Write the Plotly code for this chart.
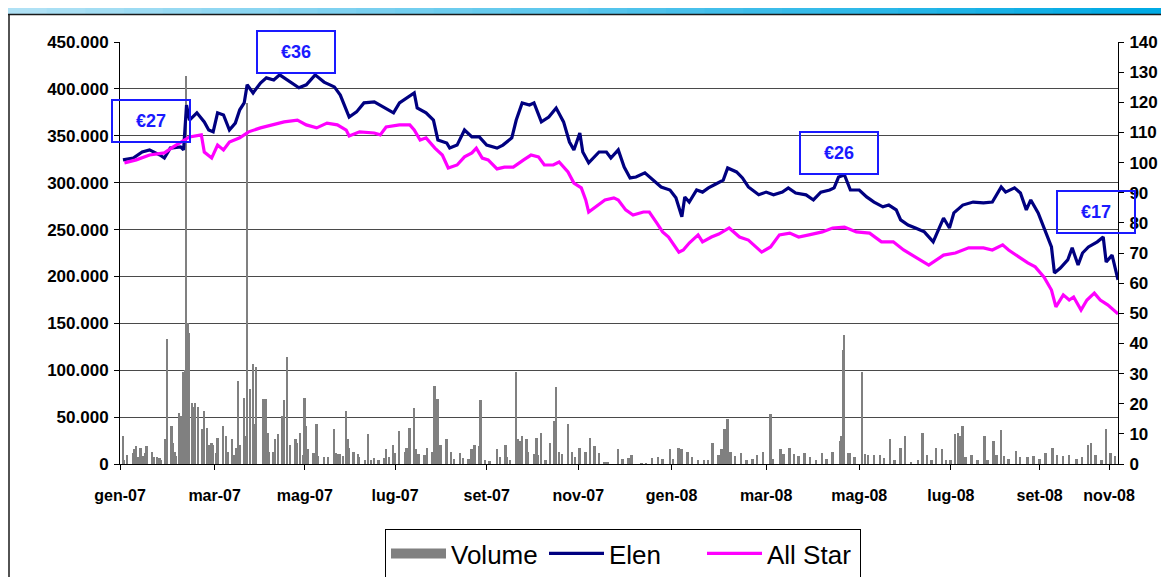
import plotly.graph_objects as go
import pandas as pd

FONT = "Arial, 'Liberation Sans', sans-serif"
BASE = pd.Timestamp("2007-01-01")

# Elen price index (day offset from 1 Jan 2007, value, base 100)
elen_days = [2, 9, 15, 20, 27, 30, 34, 41, 43, 45, 47, 52, 57, 60, 63, 66, 70, 74, 78, 81,
             84, 86, 90, 95, 99, 104, 108, 115, 121, 126, 132, 138, 145, 149, 153, 155, 160, 165, 172, 178,
             185, 189, 194, 199, 201, 207, 212, 215, 221, 223, 228, 233, 238, 243, 248, 255, 259, 265, 268, 272,
             277, 280, 285, 290, 295, 300, 304, 307, 311, 313, 317, 324, 329, 332, 337, 341, 345, 349, 355, 361,
             366, 372, 376, 380, 382, 385, 390, 394, 398, 403, 408, 411, 417, 421, 425, 432, 437, 442, 448, 452,
             457, 464, 469, 474, 480, 483, 486, 490, 494, 500, 505, 510, 516, 520, 525, 528, 533, 538, 544, 550,
             554, 557, 561, 564, 570, 577, 584, 590, 596, 599, 605, 609, 613, 616, 621, 626, 630, 632, 636, 641,
             644, 648, 651, 655, 661, 665, 667, 671, 675]
elen_vals = [100.9, 101.5, 103.5, 104.2, 102.5, 101.5, 104.8, 105.2, 104.2, 119.1, 114.1, 116.5, 113.5, 110.8, 110.2, 116.5, 115.8, 110.8, 113.1, 117.5,
             119.8, 125.8, 123.1, 126.4, 128.1, 127.4, 129.1, 126.7, 124.8, 125.8, 129.1, 126.7, 125.1, 122.4, 117.5, 115.1, 116.8, 119.8, 120.1, 118.5,
             116.5, 119.8, 121.4, 123.1, 118.1, 116.5, 114.1, 107.5, 106.5, 104.8, 105.8, 110.8, 108.5, 108.5, 105.8, 104.8, 105.8, 108.2, 114.1, 119.8,
             119.1, 119.8, 113.5, 115.1, 118.1, 113.5, 106.8, 104.2, 109.8, 103.5, 99.9, 103.5, 103.5, 101.5, 104.2, 98.5, 94.9, 95.2, 96.6, 94.2,
             91.9, 90.9, 88.3, 82.0, 88.6, 86.9, 90.9, 90.2, 91.6, 92.9, 94.2, 98.2, 96.9, 94.9, 91.9, 89.3, 90.2, 89.3, 90.2, 91.6,
             89.9, 89.3, 87.6, 90.2, 90.9, 91.6, 95.2, 95.9, 90.9, 90.9, 88.6, 86.9, 85.3, 85.9, 84.3, 81.0, 79.3, 78.3, 77.0, 73.7,
             78.6, 81.6, 78.3, 83.3, 85.9, 86.9, 86.6, 86.9, 91.9, 90.2, 91.6, 89.9, 84.3, 87.6, 83.3, 76.6, 72.0, 63.4, 65.0, 67.7,
             71.7, 66.0, 70.0, 72.0, 73.7, 75.3, 67.0, 69.3, 61.1]

# All Star index
allstar_days = [3, 11, 20, 30, 36, 43, 47, 55, 57, 62, 66, 70, 74, 81, 87, 95, 104, 111, 120, 126,
                133, 140, 147, 153, 155, 162, 172, 176, 180, 189, 196, 199, 203, 207, 213, 218, 222, 228, 233, 238,
                241, 245, 249, 255, 260, 266, 273, 278, 283, 287, 293, 297, 303, 307, 312, 315, 317, 322, 328, 334,
                337, 342, 347, 354, 358, 363, 367, 371, 378, 381, 385, 391, 394, 400, 405, 412, 419, 425, 434, 440,
                446, 453, 459, 466, 475, 482, 490, 498, 507, 515, 523, 530, 538, 547, 557, 565, 574, 584, 590, 597,
                601, 608, 614, 619, 625, 630, 633, 638, 642, 645, 650, 654, 659, 663, 668, 675]
allstar_vals = [99.9, 100.9, 102.5, 103.2, 105.2, 107.5, 108.5, 109.2, 103.5, 101.5, 105.8, 104.2, 106.8, 108.2, 110.2, 111.5, 112.5, 113.5, 114.1, 112.5,
                111.5, 113.1, 112.5, 110.8, 108.8, 110.2, 109.8, 109.2, 111.8, 112.5, 112.5, 110.8, 107.5, 108.2, 104.8, 102.5, 98.2, 99.2, 101.9, 103.2,
                104.8, 101.5, 100.9, 97.9, 98.5, 98.5, 100.9, 102.5, 101.9, 99.2, 99.2, 100.2, 96.9, 93.2, 91.6, 87.6, 83.6, 85.3, 87.6, 88.3,
                87.6, 84.3, 82.6, 83.6, 83.6, 80.0, 77.0, 75.3, 70.3, 71.0, 73.3, 76.0, 73.7, 75.3, 76.3, 78.3, 75.3, 74.3, 70.3, 72.0,
                76.0, 76.6, 75.3, 76.0, 77.0, 78.3, 78.6, 77.0, 76.6, 73.7, 73.7, 71.0, 68.7, 66.0, 69.3, 70.0, 71.7, 71.7, 71.0, 72.7,
                71.0, 68.7, 66.7, 65.4, 62.0, 57.7, 52.1, 56.1, 54.4, 55.4, 51.1, 54.4, 56.7, 54.4, 52.8, 49.8]

# Daily volume (thousands of shares)
vol_days = [2, 3, 5, 9, 10, 11, 12, 14, 16, 17, 18, 22, 23, 25, 27, 28, 31, 32, 35, 36,
            37, 38, 40, 41, 42, 43, 44, 45, 46, 47,
            49, 50, 51, 53, 56, 57, 59, 60, 62, 63, 65, 66, 70, 72, 73, 76, 77, 79, 80, 81,
            84, 85, 86, 88, 90, 91, 92, 97, 98, 99, 100, 101, 104, 105, 107, 110, 111, 113, 115,
            119, 120, 122, 124, 125, 126, 127, 131, 133, 134, 138, 141, 145, 146, 148, 149, 151, 153, 154, 155,
            158, 161, 162, 166, 168, 170, 172, 175, 179, 180, 182, 185, 186, 189, 193, 194, 196, 199, 200, 202,
            206, 208, 211, 213, 214, 215, 217, 221, 224, 226, 230, 232, 236, 238, 240, 243, 244, 247, 250, 255,
            257, 261, 262, 264, 268, 269, 271, 272, 275, 276, 280, 282, 283, 285, 288, 291, 294, 295, 297, 299,
            303, 306, 308, 311, 315, 318, 321, 324,
            328, 330, 337, 340, 344, 346, 353, 356, 360, 364, 367, 372, 374, 378, 380, 384, 387, 391, 395, 398,
            401, 405, 407, 409, 411, 413, 416, 420, 424, 428, 431, 435, 440, 442, 447, 449, 453, 456, 459, 463,
            467, 471, 475, 478, 482, 487, 488, 489, 490, 493, 494, 497, 502, 504, 506, 510, 514, 517, 521, 524,
            528, 531, 535, 540, 543, 546, 549, 552, 556, 559, 562, 565, 567, 568, 570, 572, 576, 580, 585, 587,
            591, 593, 596, 598, 601, 606, 609, 614, 618, 622, 626, 631, 634, 638, 642, 647, 651, 655, 657, 660,
            664, 667, 670, 673]
vol_k = [30, 4, 10, 12, 16, 19, 7, 17, 9, 12, 19, 13, 7, 8, 6, 4, 27, 133, 41, 22,
         13, 9, 54, 51, 19, 98, 100, 414, 150, 140,
         65, 61, 65, 61, 37, 57, 38, 20, 22, 20, 12, 28, 40, 30, 13, 27, 10, 17, 88, 20,
         70, 30, 385, 80, 107, 43, 103, 69, 69, 69, 33, 13, 13, 27, 32, 51, 68, 114, 20,
         27, 22, 33, 10, 70, 41, 16, 12, 43, 9, 8, 7, 37, 12, 11, 11, 9, 57, 27, 17,
         13, 11, 8, 4, 32, 4, 6, 4, 6, 16, 7, 20, 12, 35, 13, 17, 38, 60, 16, 11,
         10, 17, 13, 83, 20, 69, 20, 27, 13, 5, 12, 6, 5, 16, 20, 19, 68, 4, 3, 16,
         7, 20, 8, 4, 98, 27, 25, 30, 27, 13, 11, 28, 10, 33, 4, 22, 46, 82, 13, 11,
         43, 13, 7, 17, 13, 28, 19, 12,
         2, 2, 16, 5, 6, 10, 1, 1, 6, 8, 5, 16, 5, 17, 16, 13, 8, 4, 4, 4,
         22, 10, 16, 37, 48, 13, 9, 12, 4, 5, 10, 13, 53, 5, 16, 11, 17, 11, 9, 12,
         8, 4, 12, 5, 13, 25, 30, 122, 138, 12, 12, 7, 98, 11, 10, 10, 10, 6, 27, 4,
         17, 30, 2, 4, 33, 10, 4, 17, 16, 4, 4, 32, 33, 30, 41, 7, 10, 4, 30, 4,
         25, 10, 36, 9, 5, 14, 8, 7, 9, 5, 12, 17, 10, 9, 10, 5, 7, 20, 22, 10,
         4, 37, 12, 9]

tick_days = [0, 64, 125, 186, 248, 310, 373, 437, 500, 562, 622, 669]
tick_text = ["gen-07", "mar-07", "mag-07", "lug-07", "set-07", "nov-07",
             "gen-08", "mar-08", "mag-08", "lug-08", "set-08", "nov-08"]

price_labels = ["€27", "€36", "€26", "€17"]


def to_dates(days):
    return [BASE + pd.Timedelta(days=d) for d in days]


# the page body has an 8px margin, so the figure is drawn 8px in from the corner
OFF = 8
W, H = 1169 - OFF, 577 - OFF
# plot area in screen pixels
PL, PR, PT, PB = 120, 1118, 42, 464


def px(x):
    return (x - PL) / (PR - PL)


def py(y):
    return (PB - y) / (PB - PT)


fig = go.Figure()

fig.add_trace(go.Bar(
    x=to_dates(vol_days), y=[v * 1000 for v in vol_k],
    marker=dict(color='#808080', line=dict(width=0)),
    width=86400000 * 1.3, name='Volume', showlegend=False, yaxis='y'
))
fig.add_trace(go.Scatter(
    x=[None], y=[None], mode='lines', name='Volume',
    line=dict(color='#808080', width=16), yaxis='y'
))
fig.add_trace(go.Scatter(
    x=to_dates(elen_days), y=elen_vals, mode='lines', name='Elen',
    line=dict(color='#000080', width=3.2), yaxis='y2'
))
fig.add_trace(go.Scatter(
    x=to_dates(allstar_days), y=allstar_vals, mode='lines', name='All Star',
    line=dict(color='#ff00ff', width=3.2), yaxis='y2'
))

tickfont = dict(family=FONT, size=17, color='black', weight='bold')

# header gradient strip and frame
shapes = []
n_seg = 30
for i in range(n_seg):
    t = i / (n_seg - 1)
    r = int(175 + (0 - 175) * t)
    g = int(225 + (170 - 225) * t)
    b = int(245 + (228 - 245) * t)
    x0 = OFF + (1169 - OFF) * i / n_seg
    x1 = OFF + (1169 - OFF) * (i + 1) / n_seg + 1
    shapes.append(dict(type='rect', xref='paper', yref='paper',
                       x0=px(x0), x1=px(x1), y0=py(OFF), y1=py(OFF + 6),
                       fillcolor=f'rgb({r},{g},{b})', line=dict(width=0), layer='below'))
shapes.append(dict(type='line', xref='paper', yref='paper',
                   x0=px(OFF), x1=px(1169), y0=py(OFF + 6.5), y1=py(OFF + 6.5),
                   line=dict(color='#1a1a1a', width=1.5)))
shapes.append(dict(type='line', xref='paper', yref='paper',
                   x0=px(OFF + 1), x1=px(OFF + 1), y0=py(OFF + 6), y1=py(577),
                   line=dict(color='#1a1a1a', width=1.5)))

# price callout boxes
box_centres = [(151, 121), (296, 52), (839, 153), (1096, 212)]
annotations = []
for text, (cx, cy) in zip(price_labels, box_centres):
    annotations.append(dict(
        text=text, xref='paper', yref='paper', x=px(cx), y=py(cy),
        xanchor='center', yanchor='middle', showarrow=False,
        width=74, height=38, borderpad=1, borderwidth=2, bordercolor='#1a1aff',
        font=dict(family=FONT, size=18, color='#1a1aff', weight='bold')
    ))

fig.update_layout(
    width=W, height=H, autosize=False,
    paper_bgcolor='white', plot_bgcolor='white',
    separators=',.',
    margin=dict(l=PL - OFF, r=1169 - PR, t=PT - OFF, b=577 - PB, autoexpand=False),
    showlegend=True,
    legend=dict(
        orientation='h', x=px(623), xanchor='center', y=py(529), yanchor='top',
        bgcolor='white', bordercolor='black', borderwidth=1,
        font=dict(family=FONT, size=26, color='black'),
        itemwidth=55, entrywidth=88, entrywidthmode='pixels', traceorder='normal'
    ),
    xaxis=dict(
        type='date', range=[BASE, BASE + pd.Timedelta(days=675)],
        tickvals=to_dates(tick_days), ticktext=tick_text,
        tickfont=dict(family=FONT, size=16, color='black', weight='bold'),
        showgrid=False, zeroline=False, showline=True, linecolor='black', linewidth=1,
        ticks='outside', ticklen=5, tickcolor='black', ticklabelstandoff=12
    ),
    yaxis=dict(
        range=[0, 450000], dtick=50000, tickformat=',d',
        tickfont=tickfont, showgrid=True, gridcolor='#4a4a4a', gridwidth=1,
        zeroline=False, showline=True, linecolor='black', linewidth=1,
        ticks='outside', ticklen=5, tickcolor='black', ticklabelstandoff=2
    ),
    yaxis2=dict(
        overlaying='y', side='right', range=[0, 140], dtick=10,
        tickfont=tickfont, showgrid=False, zeroline=False,
        showline=True, linecolor='black', linewidth=1,
        ticks='outside', ticklen=5, tickcolor='black', ticklabelstandoff=2
    ),
    shapes=shapes,
    annotations=annotations,
    bargap=0
)

fig.write_html("out.html")
